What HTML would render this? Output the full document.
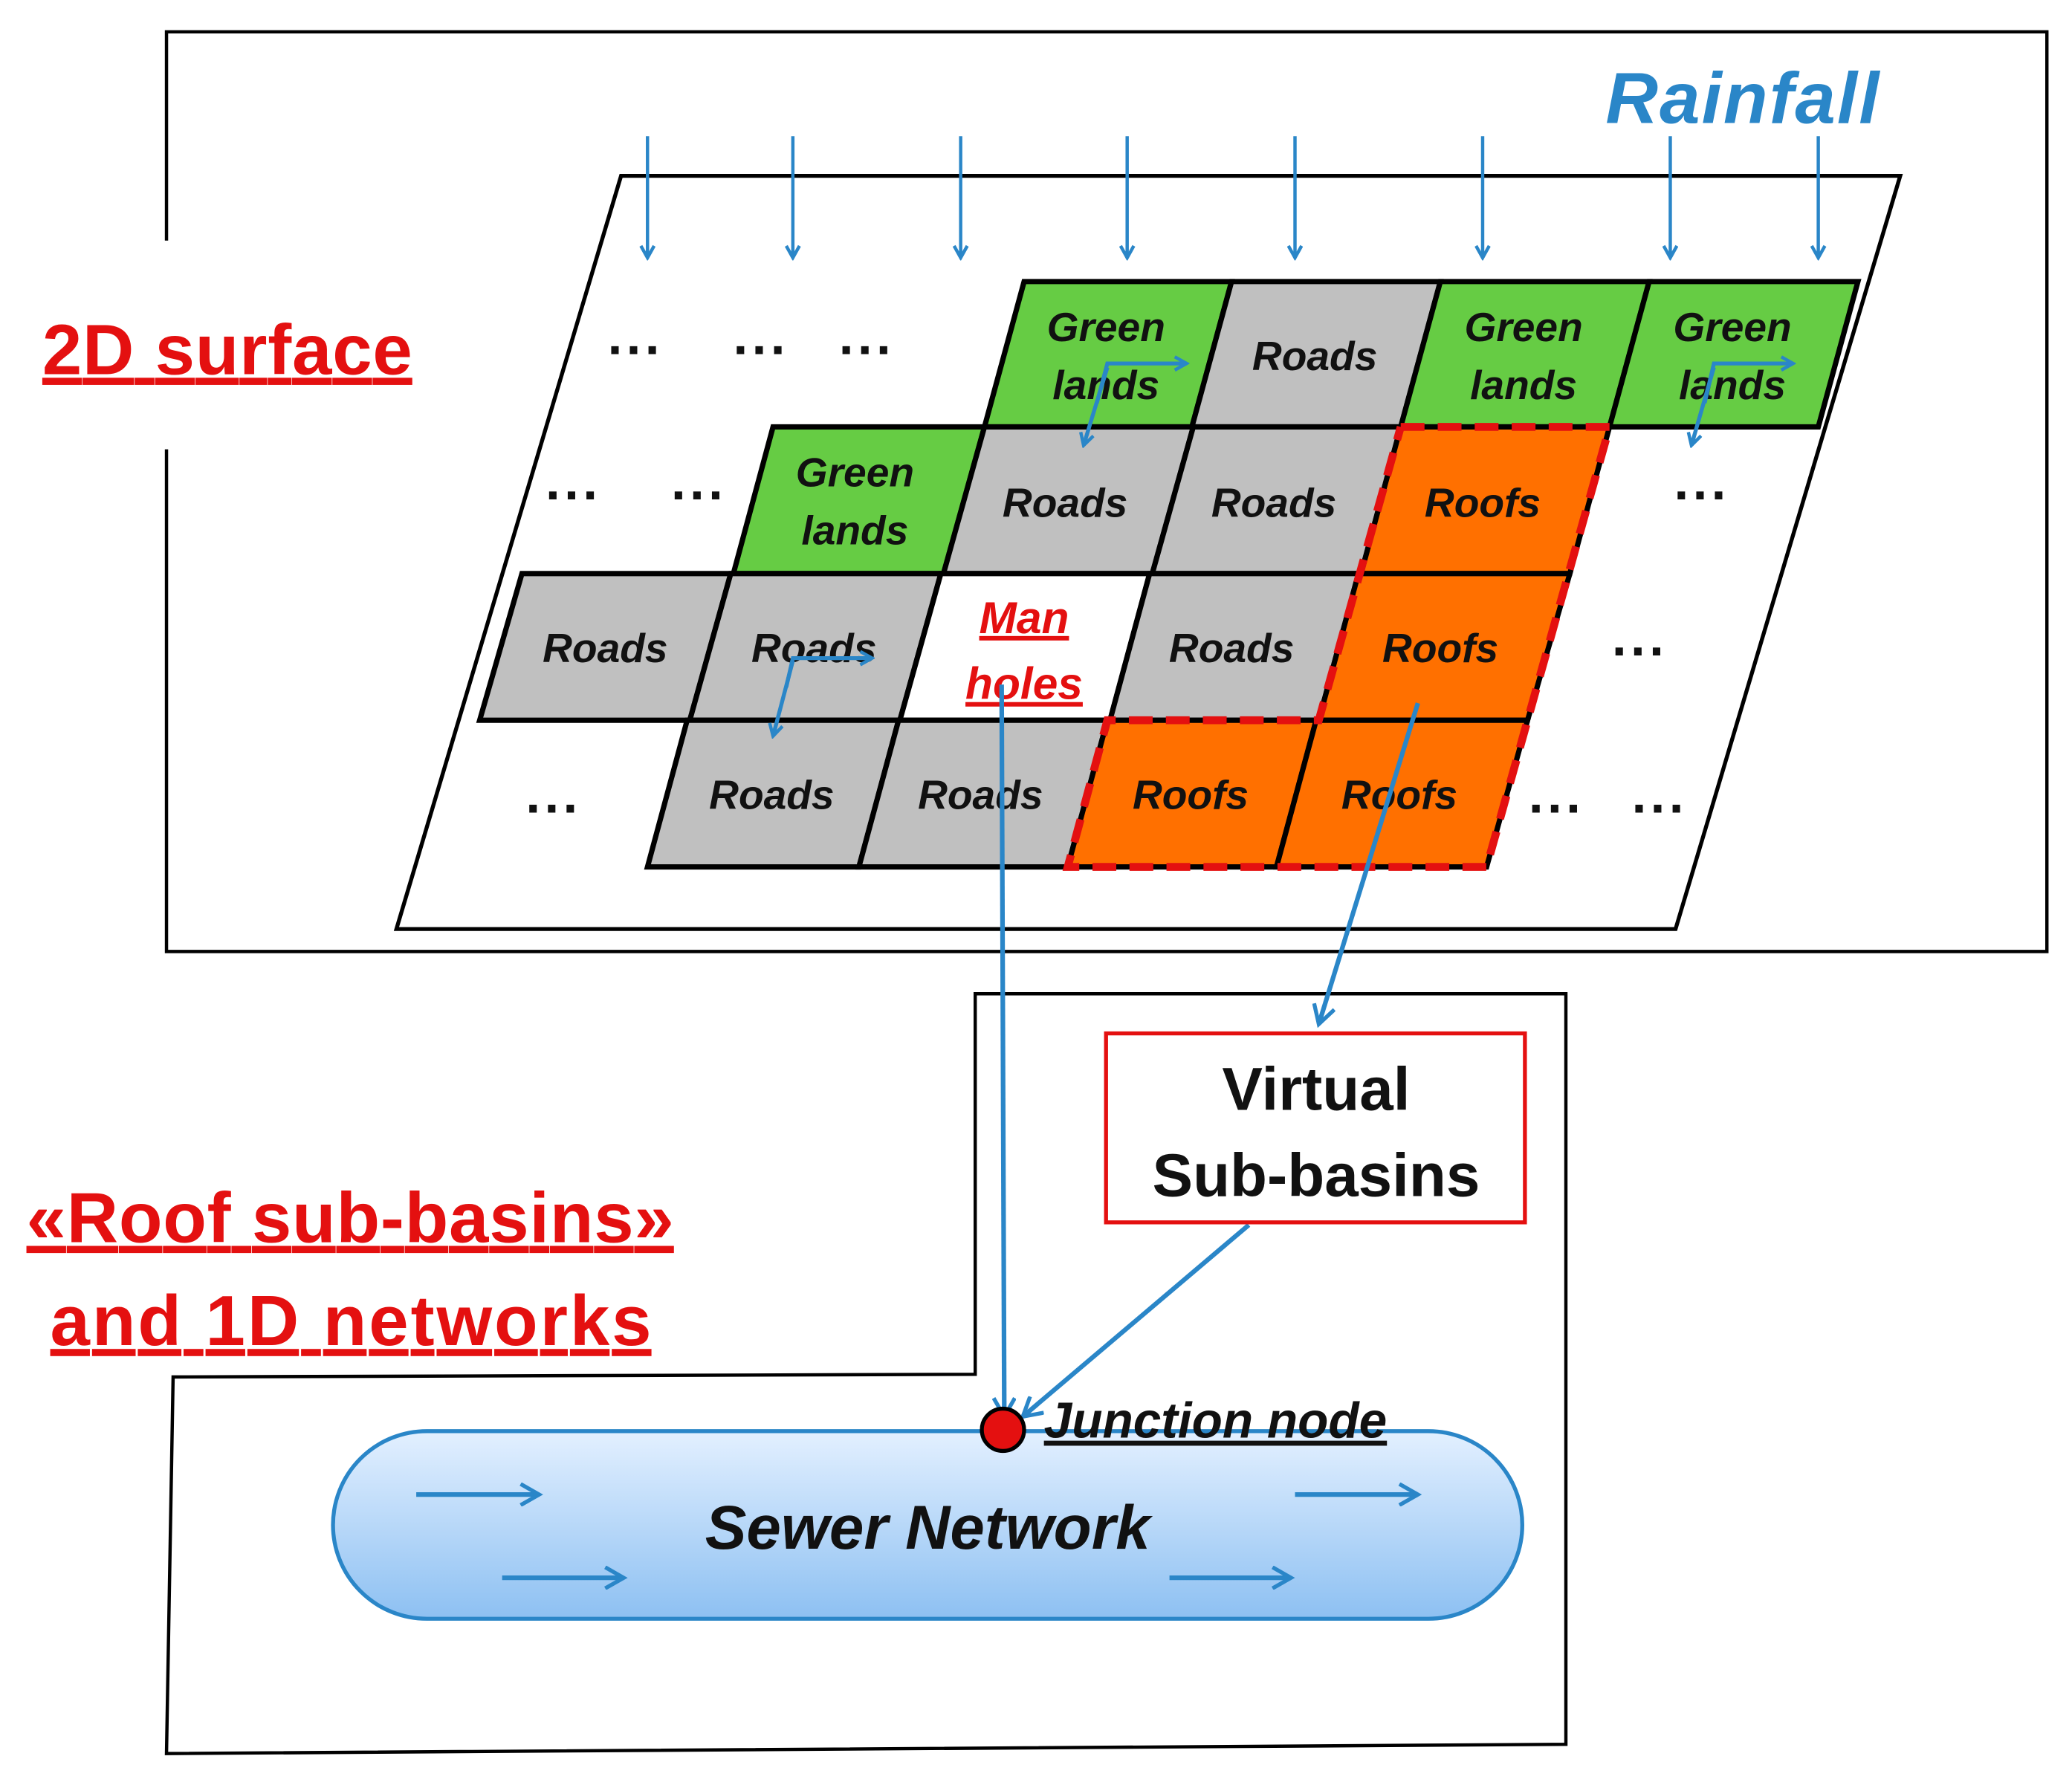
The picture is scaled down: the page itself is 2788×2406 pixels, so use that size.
<!DOCTYPE html>
<html><head><meta charset="utf-8"><style>
html,body{margin:0;padding:0;background:#fff;}
svg{display:block;}
text{font-family:"Liberation Sans",sans-serif;}
</style></head><body>
<svg width="2788" height="2406" viewBox="0 0 1568 1353" xmlns="http://www.w3.org/2000/svg">
<defs>
<marker id="ah" markerWidth="12" markerHeight="12" refX="10" refY="6" orient="auto" markerUnits="userSpaceOnUse">
<path d="M1,1 L10,6 L1,11" fill="none" stroke="#2a86c8" stroke-width="2.5"/></marker>
<marker id="ah2" markerWidth="18" markerHeight="18" refX="15" refY="9" orient="auto" markerUnits="userSpaceOnUse">
<path d="M1,1 L15,9 L1,17" fill="none" stroke="#2a86c8" stroke-width="3"/></marker>
<linearGradient id="sg" x1="0" y1="0" x2="0" y2="1">
<stop offset="0" stop-color="#e3f0ff"/><stop offset="1" stop-color="#8dc0f2"/></linearGradient>
</defs>
<polyline points="126,182 126,24 1549,24 1549,720 126,720 126,340" fill="none" stroke="#000" stroke-width="2.5"/>
<polygon points="738,752 1185,752 1185,1320 126,1327 131,1042 738,1040" fill="none" stroke="#000" stroke-width="2.5"/>
<polygon points="470,133 1438,133 1268,703 300,703" fill="#fff" stroke="#000" stroke-width="3"/>
<g stroke="#000" stroke-width="4">
<polygon points="775,213 932,213 902,323 745,323" fill="#66cc44"/>
<polygon points="932,213 1090,213 1060,323 902,323" fill="#c0c0c0"/>
<polygon points="1090,213 1248,213 1218,323 1060,323" fill="#66cc44"/>
<polygon points="1248,213 1406,213 1376,323 1218,323" fill="#66cc44"/>
<polygon points="585,323 745,323 714,434 555,434" fill="#66cc44"/>
<polygon points="745,323 903,323 872,434 714,434" fill="#c0c0c0"/>
<polygon points="903,323 1060,323 1030,434 872,434" fill="#c0c0c0"/>
<polygon points="1060,323 1218,323 1188,434 1030,434" fill="#ff7000"/>
<polygon points="395,434 553,434 522,545 363,545" fill="#c0c0c0"/>
<polygon points="553,434 712,434 681,545 522,545" fill="#c0c0c0"/>
<polygon points="712,434 870,434 840,545 681,545" fill="#fff"/>
<polygon points="870,434 1028,434 998,545 840,545" fill="#c0c0c0"/>
<polygon points="1028,434 1188,434 1156,545 998,545" fill="#ff7000"/>
<polygon points="520,545 680,545 650,656 490,656" fill="#c0c0c0"/>
<polygon points="680,545 838,545 808,656 650,656" fill="#c0c0c0"/>
<polygon points="838,545 996,545 966,656 808,656" fill="#ff7000"/>
<polygon points="996,545 1156,545 1125,656 966,656" fill="#ff7000"/>
</g>
<polyline points="1060,323 1218,323 1125,656 808,656 838,545 998,545 1060,323" fill="none" stroke="#e41010" stroke-width="6" stroke-dasharray="18,10"/>
<g font-weight="bold" font-style="italic" font-size="31" text-anchor="middle" fill="#111">
<text x="837" y="258">Green</text><text x="837" y="302">lands</text>
<text x="995" y="280">Roads</text>
<text x="1153" y="258">Green</text><text x="1153" y="302">lands</text>
<text x="1311" y="258">Green</text><text x="1311" y="302">lands</text>
<text x="647" y="368">Green</text><text x="647" y="412">lands</text>
<text x="806" y="391">Roads</text>
<text x="964" y="391">Roads</text>
<text x="1122" y="391">Roofs</text>
<text x="458" y="501">Roads</text>
<text x="616" y="501">Roads</text>
<text x="932" y="501">Roads</text>
<text x="1090" y="501">Roofs</text>
<text x="584" y="612">Roads</text>
<text x="742" y="612">Roads</text>
<text x="901" y="612">Roofs</text>
<text x="1059" y="612">Roofs</text>
</g>
<g font-weight="bold" font-style="italic" font-size="34" text-anchor="middle" fill="#e41010" text-decoration="underline">
<text x="775" y="479">Man</text><text x="775" y="529">holes</text>
</g>
<g font-weight="bold" font-size="40" fill="#111" text-anchor="middle" letter-spacing="3">
<text x="481" y="268">...</text><text x="576" y="268">...</text><text x="656" y="268">...</text>
<text x="434" y="378">...</text><text x="529" y="378">...</text><text x="1288" y="378">...</text>
<text x="1241" y="496">...</text>
<text x="419" y="615">...</text><text x="1178" y="615">...</text><text x="1256" y="615">...</text>
</g>
<g stroke="#2a86c8" stroke-width="2.5" marker-end="url(#ah)">
<line x1="490" y1="103" x2="490" y2="195"/><line x1="600" y1="103" x2="600" y2="195"/>
<line x1="727" y1="103" x2="727" y2="195"/><line x1="853" y1="103" x2="853" y2="195"/>
<line x1="980" y1="103" x2="980" y2="195"/><line x1="1122" y1="103" x2="1122" y2="195"/>
<line x1="1264" y1="103" x2="1264" y2="195"/><line x1="1376" y1="103" x2="1376" y2="195"/>
</g>
<g stroke="#2a86c8" stroke-width="3" fill="none" marker-end="url(#ah)">
<polyline points="830,305 838,275 898,275"/><line x1="838" y1="278" x2="820" y2="337"/>
<polyline points="1290,305 1297,275 1357,275"/><line x1="1297" y1="278" x2="1280" y2="337"/>
<polyline points="595,520 600,498 660,498"/><line x1="600" y1="500" x2="585" y2="557"/>
</g>
<g stroke="#2a86c8" stroke-width="3.5" fill="none" marker-end="url(#ah2)">
<line x1="758" y1="518" x2="760" y2="1072"/>
<line x1="1073" y1="532" x2="998" y2="775"/>
<line x1="945" y1="927" x2="774" y2="1072"/>
</g>
<rect x="837" y="782" width="317" height="143" fill="#fff" stroke="#e41010" stroke-width="3"/>
<text x="996" y="840" font-size="46" font-weight="bold" text-anchor="middle" fill="#111">Virtual</text>
<text x="996" y="905" font-size="46" font-weight="bold" text-anchor="middle" fill="#111">Sub-basins</text>
<rect x="252" y="1083" width="900" height="142" rx="71" fill="url(#sg)" stroke="#2a86c8" stroke-width="3"/>
<text x="702" y="1172" font-size="47" font-weight="bold" font-style="italic" text-anchor="middle" fill="#111">Sewer Network</text>
<g stroke="#2a86c8" stroke-width="3.5" marker-end="url(#ah2)">
<line x1="315" y1="1131" x2="408" y2="1131"/><line x1="380" y1="1194" x2="472" y2="1194"/>
<line x1="980" y1="1131" x2="1073" y2="1131"/><line x1="885" y1="1194" x2="977" y2="1194"/>
</g>
<circle cx="759" cy="1082" r="16" fill="#e41010" stroke="#000" stroke-width="3"/>
<text x="790" y="1088" font-size="38" font-weight="bold" font-style="italic" fill="#111" text-decoration="underline">Junction node</text>
<text x="1215" y="93" font-size="55" font-weight="bold" font-style="italic" fill="#2a86c8" textLength="207">Rainfall</text>
<text x="32" y="283" font-size="54" font-weight="bold" fill="#e41010" text-decoration="underline" textLength="280">2D surface</text>
<text x="20" y="940" font-size="54" font-weight="bold" fill="#e41010" text-decoration="underline" textLength="490">«Roof sub-basins»</text>
<text x="38" y="1018" font-size="54" font-weight="bold" fill="#e41010" text-decoration="underline" textLength="455">and 1D networks</text>
</svg>
</body></html>
